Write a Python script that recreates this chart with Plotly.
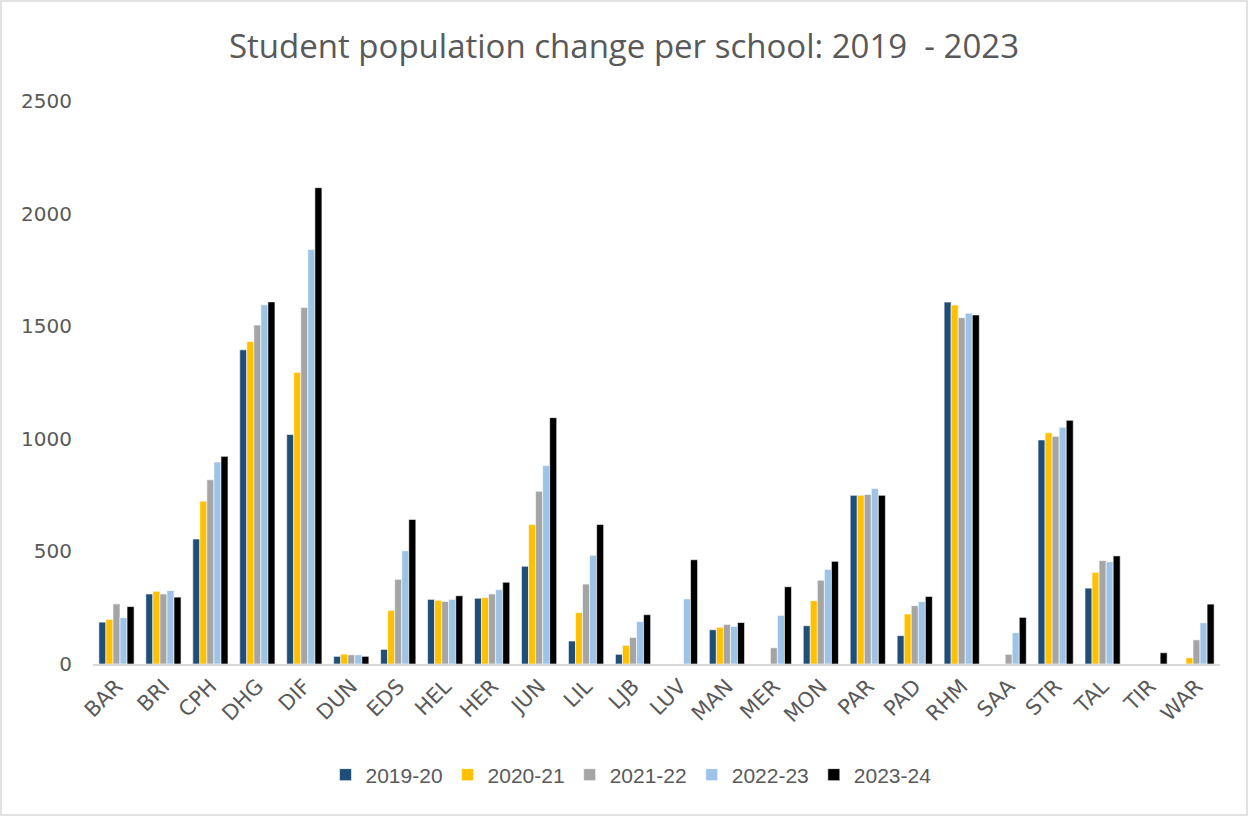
import plotly.graph_objects as go

schools = ["BAR", "BRI", "CPH", "DHG", "DIF", "DUN", "EDS", "HEL", "HER", "JUN", "LIL", "LJB",
           "LUV", "MAN", "MER", "MON", "PAR", "PAD", "RHM", "SAA", "STR", "TAL", "TIR", "WAR"]

y2019_20 = [186, 311, 555, 1395, 1019, 34, 65, 287, 292, 434, 102, 43,
            None, 152, None, 170, 749, 126, 1607, None, 995, 337, None, None]
y2020_21 = [198, 323, 723, 1432, 1295, 44, 238, 283, 295, 619, 228, 83,
            None, 163, None, 281, 749, 222, 1594, None, 1027, 407, None, 28]
y2021_22 = [267, 311, 818, 1505, 1583, 41, 376, 278, 311, 767, 355, 118,
            None, 176, 72, 372, 753, 259, 1538, 43, 1011, 459, None, 107]
y2022_23 = [206, 326, 897, 1595, 1841, 41, 503, 287, 330, 881, 483, 188,
            289, 167, 216, 420, 779, 277, 1558, 139, 1051, 454, None, 183]
y2023_24 = [255, 297, 922, 1608, 2115, 34, 642, 303, 363, 1094, 619, 219,
            463, 184, 343, 456, 749, 300, 1550, 207, 1082, 480, 50, 266]

series_names = ["2019-20", "2020-21", "2021-22", "2022-23", "2023-24"]
series_values = [y2019_20, y2020_21, y2021_22, y2022_23, y2023_24]
colors = ["#1F4E79", "#FFC000", "#A5A5A5", "#9DC3E6", "#000000"]

fig = go.Figure()
for name, vals, col in zip(series_names, series_values, colors):
    fig.add_trace(go.Bar(
        x=schools, y=vals, name=name,
        marker=dict(color=col, line=dict(color="white", width=0.6)),
    ))

W, H = 1249, 817
L, R, T, B = 93, 29, 101, 153
pw, ph = W - L - R, H - T - B

def px_x(p):
    return (p - L) / pw

def px_y(p):
    return (H - B - p) / ph

fig.update_layout(
    width=W, height=H,
    margin=dict(l=L, r=R, t=T, b=B, pad=0),
    paper_bgcolor="white", plot_bgcolor="white",
    barmode="group", bargap=0.25, bargroupgap=0.0,
    title=dict(text="Student population change per school: 2019  - 2023",
               x=px_x(624) * pw / W + L / W, xanchor="center", y=1 - 46 / H, yanchor="middle",
               font=dict(family="Open Sans", size=33, color="#595959")),
    font=dict(family="Liberation Sans", color="#595959"),
    xaxis=dict(tickangle=-45, tickfont=dict(family="DejaVu Sans", size=21, color="#595959"),
               showline=True, linecolor="#D9D9D9", linewidth=1.5,
               ticks="", showgrid=False),
    yaxis=dict(range=[0, 2500], dtick=500,
               tickfont=dict(family="DejaVu Sans", size=20, color="#595959"),
               showgrid=False, zeroline=False, showline=False, ticks="",
               ticklabelstandoff=20),
    legend=dict(orientation="h", x=px_x(631), xanchor="center", y=px_y(775), yanchor="middle",
                font=dict(family="Liberation Sans", size=21, color="#595959"),
                itemwidth=30, traceorder="normal"),
    shapes=[dict(type="rect", xref="paper", yref="paper",
                 x0=px_x(1), x1=px_x(W - 2), y0=px_y(H - 2), y1=px_y(1),
                 line=dict(color="#D9D9D9", width=1.5), fillcolor="rgba(0,0,0,0)",
                 layer="below")],
)

fig.write_html("out.html", config={"displayModeBar": False},
               post_script="document.body.style.margin='0';document.body.style.overflow='hidden';")
